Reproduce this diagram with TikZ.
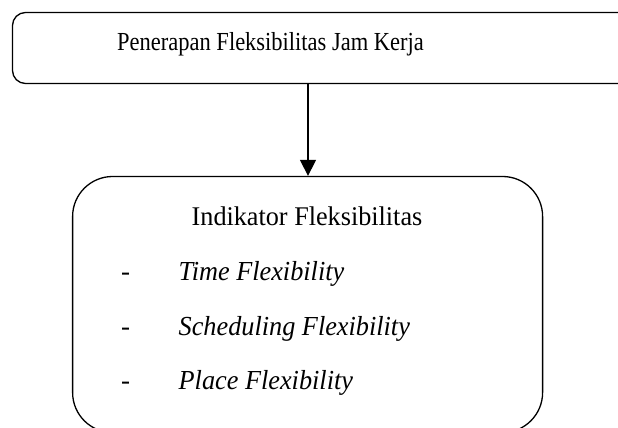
\documentclass[tikz,border=0pt]{standalone}
\usepackage{graphicx}
\usepackage{fontspec}
\setmainfont{Liberation Serif}
\usetikzlibrary{arrows.meta}
\newcommand{\narrow}[2]{\scalebox{#1}[1]{#2}}
\begin{document}
\begin{tikzpicture}[x=1pt,y=-1pt,
  box/.style={draw, line width=1.3pt, inner sep=0pt},
  toptxt/.style={inner sep=0pt, font=\fontsize{26}{31}\selectfont},
  btxt/.style={inner sep=0pt, font=\fontsize{27}{32}\selectfont},
  itm/.style={inner sep=0pt, anchor=base west, font=\fontsize{27.5}{32}\selectfont\itshape},
  dsh/.style={btxt, anchor=base west},
  conn/.style={line width=1.4pt, -{Triangle[length=16pt,width=16pt]}}]
\useasboundingbox (0,0) rectangle (618,428);
\node[box, rounded corners=13pt, minimum width=630pt, minimum height=71pt] (top) at (327.5,48) {};
\node[toptxt, anchor=base west] (toptext) at (117,50.5) {\narrow{0.865}{Penerapan Fleksibilitas Jam Kerja}};
\node[box, rounded corners=40pt, minimum width=470pt, minimum height=256pt] (bottom) at (307.6,304.5) {};
\node[btxt, anchor=base] (title) at (307,225.5) {\narrow{0.97}{Indikator Fleksibilitas}};
\node[dsh] (d1) at (121,280.5) {-};
\node[itm] (i1) at (178.5,280.5) {\narrow{0.955}{Time Flexibility}};
\node[dsh] (d2) at (121,335) {-};
\node[itm] (i2) at (178.5,335) {\narrow{0.955}{Scheduling Flexibility}};
\node[dsh] (d3) at (121,389.5) {-};
\node[itm] (i3) at (178.5,389.5) {\narrow{0.955}{Place Flexibility}};
\coordinate (ax) at (308,0);
\draw[conn] (top.south -| ax) -- (bottom.north -| ax);
\end{tikzpicture}
\end{document}
